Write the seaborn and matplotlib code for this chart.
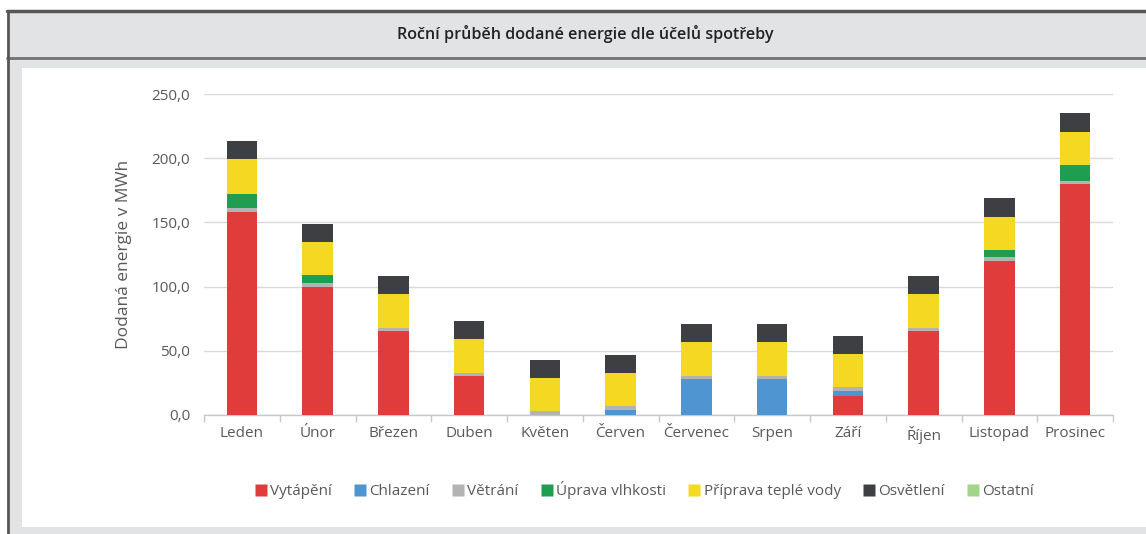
import numpy as np
import pandas as pd
import matplotlib
matplotlib.use("Agg")
import matplotlib.pyplot as plt
from matplotlib.patches import Rectangle
from matplotlib.lines import Line2D
from matplotlib.ticker import FuncFormatter, FixedLocator
import seaborn as sns

months = ["Leden", "Únor", "Březen", "Duben", "Květen", "Červen",
          "Červenec", "Srpen", "Září", "Říjen", "Listopad", "Prosinec"]
vytapeni = [158, 100, 65.5, 30, 0, 0, 0, 0, 15, 65.5, 120, 180]
chlazeni = [0, 0, 0, 0, 0, 4, 28, 28, 4, 0, 0, 0]
vetrani = [3, 2.5, 2.5, 2.5, 3, 3, 2.5, 2.5, 2.5, 2.5, 3, 2.5]
uprava_vlhkosti = [11.5, 6.5, 0, 0, 0, 0, 0, 0, 0, 0, 5.5, 12]
priprava_tv = [27, 26, 26, 26.5, 26, 26, 26.5, 26.5, 26, 26, 26, 26]
osvetleni = [14, 14, 14, 14, 14, 14, 14, 14, 14, 14, 14.5, 15]
ostatni = [0] * 12

series_names = ["Vytápění", "Chlazení", "Větrání", "Úprava vlhkosti",
                "Příprava teplé vody", "Osvětlení", "Ostatní"]
series_vals = [vytapeni, chlazeni, vetrani, uprava_vlhkosti,
               priprava_tv, osvetleni, ostatni]
colors = ["#e03c3c", "#4f95d1", "#b3b3b5", "#1f9d50", "#f5d822",
          "#3d3f43", "#a3d48c"]

sns.set_theme(style="white")
plt.rcParams["font.family"] = ["Open Sans", "DejaVu Sans"]

W, H = 1146, 534
fig = plt.figure(figsize=(W / 100, H / 100), dpi=100)
fig.patch.set_facecolor("white")

def fx(x): return x / W
def fy(y): return 1 - y / H

# frame: grey background, title band, white panel
fig.patches.append(Rectangle((fx(7), 0), fx(W - 7), fy(11), transform=fig.transFigure,
                             facecolor="#e2e3e4", edgecolor="none", zorder=0))
fig.patches.append(Rectangle((fx(22), fy(527)), fx(W - 22), (527 - 68) / H,
                             transform=fig.transFigure, facecolor="white",
                             edgecolor="none", zorder=1))
fig.lines.append(Line2D([fx(7), 1], [fy(11), fy(11)], transform=fig.transFigure,
                        color="#555759", lw=2.5, zorder=2))
fig.lines.append(Line2D([fx(7), 1], [fy(57.5), fy(57.5)], transform=fig.transFigure,
                        color="#6f7173", lw=2, zorder=2))
fig.lines.append(Line2D([fx(7.5), fx(7.5)], [0, fy(11)], transform=fig.transFigure,
                        color="#555759", lw=2, zorder=2))
fig.text(fx(585), fy(34), "Roční průběh dodané energie dle účelů spotřeby",
         ha="center", va="center", fontsize=11.6, color="#222222",
         family=["Open Sans", "DejaVu Sans"], fontweight="semibold")

ax = fig.add_axes([fx(204), fy(415), fx(1113 - 204), (415 - 94) / H])
ax.set_facecolor("white")
ax.set_zorder(3)

cum = np.zeros(12)
cums = []
for vals in series_vals:
    cum = cum + np.array(vals, dtype=float)
    cums.append(cum.copy())

for name, c, col in reversed(list(zip(series_names, cums, colors))):
    df = pd.DataFrame({"month": months, "value": c})
    sns.barplot(data=df, x="month", y="value", color=col, width=0.40,
                saturation=1, ax=ax, zorder=3, linewidth=0)

ax.set_ylim(0, 250)
ax.set_xlim(-0.5, 11.5)
ax.set_yticks(np.arange(0, 251, 50))
ax.yaxis.set_major_formatter(FuncFormatter(lambda v, p: f"{v:.1f}".replace(".", ",")))
ax.grid(axis="y", color="#d9d9d9", lw=1, zorder=0)
ax.set_axisbelow(True)
for s in ["left", "right", "top"]:
    ax.spines[s].set_visible(False)
ax.spines["bottom"].set_color("#c8c8c8")
ax.spines["bottom"].set_linewidth(1)
ax.xaxis.set_minor_locator(FixedLocator(np.arange(-0.5, 12, 1)))
ax.tick_params(axis="x", which="major", length=0, pad=8, labelsize=11, labelcolor="#595959")
ax.tick_params(axis="x", which="minor", length=5, color="#c8c8c8", width=1, bottom=True)
ax.tick_params(axis="y", length=0, pad=10, labelsize=11, labelcolor="#595959")
ax.set_xlabel("")
ax.set_ylabel("Dodaná energie v MWh", fontsize=12.5, color="#595959", labelpad=14)

handles = [Line2D([0], [0], marker="s", linestyle="none", markersize=8,
                  markerfacecolor=col, markeredgecolor="none") for col in colors]
leg = fig.legend(handles, series_names, loc="center", bbox_to_anchor=(fx(644), fy(490)),
                 ncol=7, frameon=False, fontsize=11, handletextpad=0.15,
                 columnspacing=1.4, handlelength=0.9, labelcolor="#595959")

fig.savefig("out.png", dpi=100, facecolor="white")
